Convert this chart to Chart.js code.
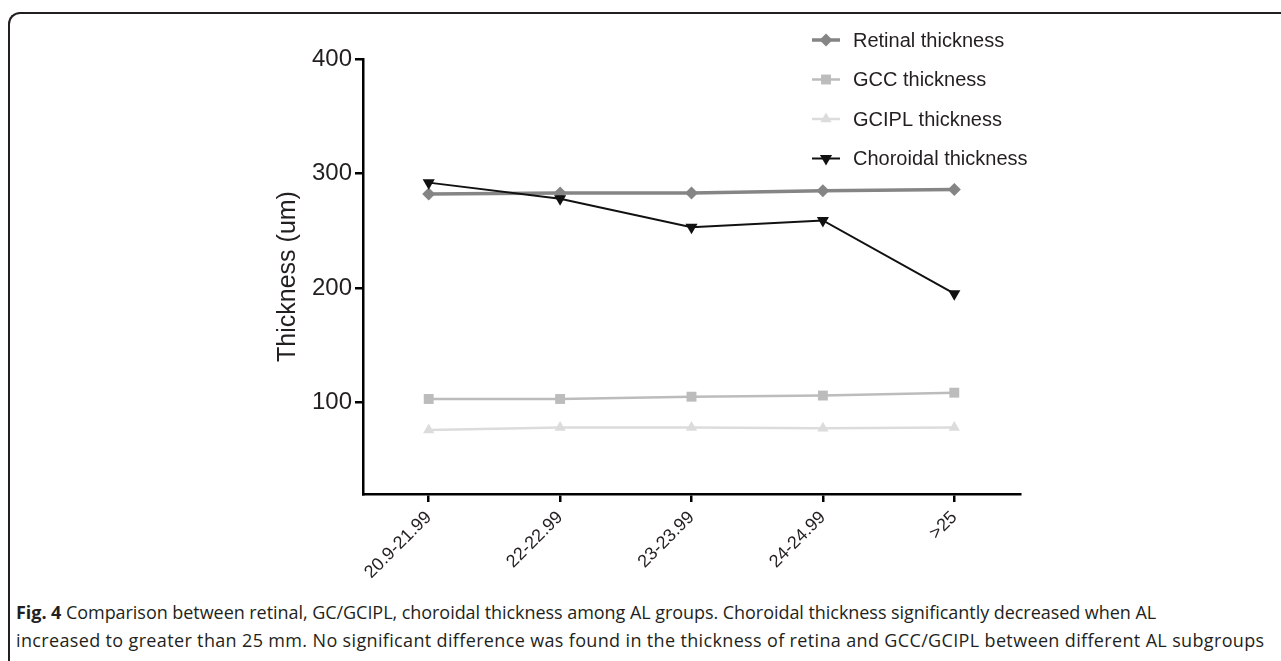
<!DOCTYPE html>
<html>
<head>
<meta charset="utf-8">
<script src="https://cdn.jsdelivr.net/npm/chart.js@4/dist/chart.umd.min.js"></script>
<style>
  html, body { margin: 0; padding: 0; background: #fff; }
  body { width: 1281px; height: 661px; position: relative; overflow: hidden; }
  #frame {
    position: absolute; left: 8px; top: 12px; width: 1300px; height: 700px;
    border-top: 2px solid #231f20; border-left: 2px solid #231f20;
    border-top-left-radius: 12px; box-sizing: border-box;
  }
  #chart { position: absolute; left: 0; top: 0; }
  .cap {
    position: absolute; left: 16px; white-space: nowrap;
    font-family: 'Open Sans', sans-serif; font-size: 18px; color: #231f20;
  }
  .cap b { font-weight: 700; }
</style>
</head>
<body>
<div id="frame"></div>
<canvas id="chart" width="1281" height="600"></canvas>
<div class="cap" style="top:600px; letter-spacing:-0.05px"><b>Fig. 4</b> Comparison between retinal, GC/GCIPL, choroidal thickness among AL groups. Choroidal thickness significantly decreased when AL</div>
<div class="cap" style="top:628px; letter-spacing:0.35px">increased to greater than 25 mm. No significant difference was found in the thickness of retina and GCC/GCIPL between different AL subgroups</div>

<script>
// AL subgroups (mm)
const alGroups = ['20.9-21.99', '22-22.99', '23-23.99', '24-24.99', '>25'];

// thickness values (um)
const retinal   = [282, 283, 283, 285, 286];
const gcc       = [103, 103, 105, 106, 108.5];
const gcipl     = [76, 78, 78, 77.5, 78];
const choroidal = [292, 278, 253, 259, 195];

const yTicks = [100, 200, 300, 400];

const txt = '#231f20';

// legend drawn by hand, stacked top right like the original
const handLegend = {
  id: 'handLegend',
  afterDraw(chart) {
    const ctx = chart.ctx;
    ctx.save();
    ctx.font = '20px "Liberation Sans", Arial, sans-serif';
    ctx.textBaseline = 'middle';
    chart.data.datasets.forEach((ds, i) => {
      const y = 40 + i * 39.5;
      ctx.strokeStyle = ds.borderColor;
      ctx.lineWidth = ds.borderWidth;
      ctx.beginPath();
      ctx.moveTo(812, y);
      ctx.lineTo(840, y);
      ctx.stroke();
      ctx.fillStyle = ds.pointBackgroundColor;
      Chart.helpers.drawPoint(ctx, {
        pointStyle: ds.pointStyle,
        rotation: ds.pointRotation || 0,
        radius: ds.pointRadius,
        borderWidth: 0
      }, 826, y);
      ctx.fillStyle = txt;
      ctx.fillText(ds.label, 853, y + 1);
    });
    ctx.restore();
  }
};

new Chart(document.getElementById('chart'), {
  type: 'line',
  data: {
    labels: alGroups,
    datasets: [
      {
        label: 'Retinal thickness',
        data: retinal,
        borderColor: '#858585',
        backgroundColor: '#858585',
        pointBackgroundColor: '#858585',
        borderWidth: 3.5,
        pointStyle: 'rectRot',
        pointRadius: 6.5,
        pointBorderWidth: 0,
        order: 1
      },
      {
        label: 'GCC thickness',
        data: gcc,
        borderColor: '#bcbcbc',
        backgroundColor: '#bcbcbc',
        pointBackgroundColor: '#bcbcbc',
        borderWidth: 2.5,
        pointStyle: 'rect',
        pointRadius: 7,
        pointBorderWidth: 0,
        order: 2
      },
      {
        label: 'GCIPL thickness',
        data: gcipl,
        borderColor: '#dcdcdc',
        backgroundColor: '#dcdcdc',
        pointBackgroundColor: '#dcdcdc',
        borderWidth: 2.5,
        pointStyle: 'triangle',
        pointRadius: 6.5,
        pointBorderWidth: 0,
        order: 3
      },
      {
        label: 'Choroidal thickness',
        data: choroidal,
        borderColor: '#111111',
        backgroundColor: '#111111',
        pointBackgroundColor: '#111111',
        borderWidth: 2,
        pointStyle: 'triangle',
        pointRotation: 180,
        pointRadius: 7,
        pointBorderWidth: 0,
        order: 0
      }
    ]
  },
  options: {
    responsive: false,
    animation: false,
    devicePixelRatio: 1,
    layout: { padding: { left: 273, right: 261, top: 59, bottom: 0 } },
    plugins: {
      legend: { display: false },
      tooltip: { enabled: false }
    },
    scales: {
      x: {
        offset: true,
        afterFit: s => { s.height = 106; },
        border: { display: true, color: '#000', width: 2.5 },
        grid: { display: true, drawOnChartArea: false, drawTicks: true, tickLength: 8, color: '#000', lineWidth: 2.5 },
        ticks: {
          color: txt,
          font: { family: '"Liberation Sans", Arial, sans-serif', size: 18 },
          minRotation: 45,
          maxRotation: 45,
          padding: 5
        }
      },
      y: {
        min: 20,
        max: 400,
        afterFit: s => { s.width = 90; },
        afterBuildTicks: s => { s.ticks = yTicks.map(v => ({ value: v })); },
        border: { display: true, color: '#000', width: 2.5 },
        grid: { display: true, drawOnChartArea: false, drawTicks: true, tickLength: 8, color: '#000', lineWidth: 2.5 },
        ticks: {
          color: txt,
          font: { family: '"Liberation Sans", Arial, sans-serif', size: 24 },
          padding: 3
        },
        title: {
          display: true,
          text: 'Thickness (um)',
          color: txt,
          padding: 0,
          font: { family: '"Liberation Sans", Arial, sans-serif', size: 25 }
        }
      }
    }
  },
  plugins: [handLegend]
});
</script>
</body>
</html>
